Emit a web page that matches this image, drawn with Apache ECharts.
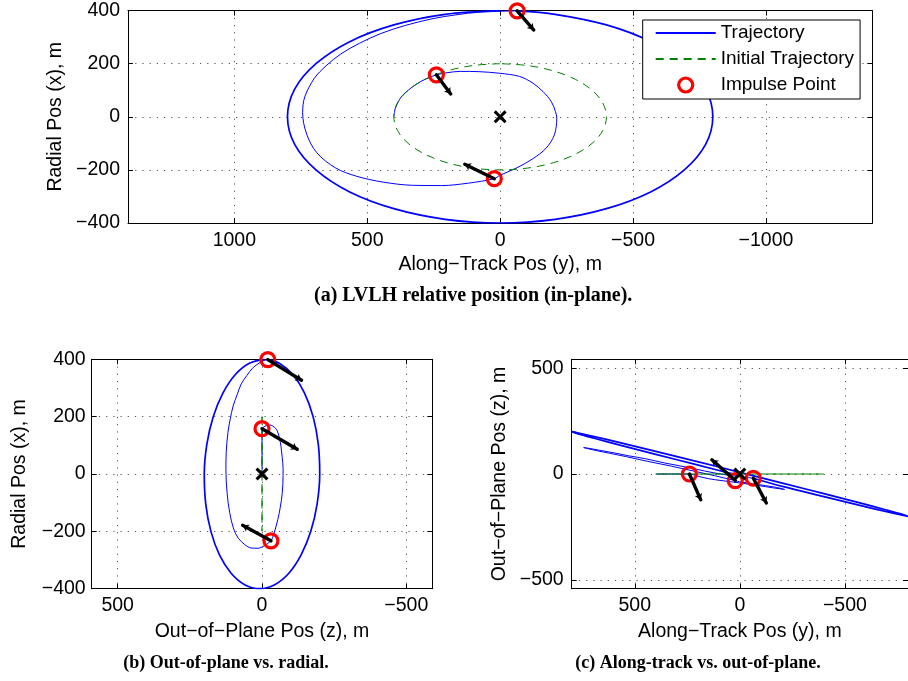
<!DOCTYPE html>
<html><head><meta charset="utf-8">
<script src="https://cdn.jsdelivr.net/npm/echarts@6/dist/echarts.min.js"></script>
<style>html,body{margin:0;padding:0;background:#fff}#c{width:908px;height:681px}</style>
</head><body><div id="c"></div>
<script>
// Points are [along-track y, radial x, out-of-plane z] in metres
const preTraj = [[400,0,0],[395,30,0],[386,52,0],[368,80,0],[346,100,0],[317,122,0],[283,141,0],[240,158,0]];
const innerTraj = [[240,158,0],[200,166,-10],[150,171,-22],[80,170,-32],[2,164,-42],[-73,152,-52],[-123,127,-60],[-161,95,-66],[-192,58,-70],[-208,20,-73],[-213,-5,-73],[-204,-68,-70],[-173,-118,-63],[-123,-158,-55],[-61,-193,-46],[2,-221,-37],[22,-233,-31]];
const transferTraj = [[22,-233,-31],[120,-250,-8],[220,-259,14],[330,-258,38],[440,-246,60],[540,-224,82],[620,-192,98],[690,-135,112],[728,-65,121],[743,15,125],[735,75,124],[699,145,118],[655,192,110],[599,237,100],[529,277,86],[448,314,72],[357,344,52],[257,369,33],[167,384,14],[79,394,-2],[-64,399,-20]];
const outerTraj = [[-64,399,-20],[-207,386,-60],[-400,346,-107],[-566,283,-147],[-693,200,-177],[-773,104,-195],[-800,0,-200],[-773,-104,-191],[-693,-200,-169],[-566,-283,-135],[-400,-346,-93],[-207,-386,-44],[0,-400,8],[207,-386,60],[400,-346,107],[566,-283,147],[693,-200,177],[773,-104,195],[800,0,200],[773,104,191],[693,200,169],[566,283,135],[400,346,93],[207,386,44],[0,400,-8]];
const initialTraj = [[0,200,0],[104,193,0],[200,173,0],[283,141,0],[346,100,0],[386,52,0],[400,0,0],[386,-52,0],[346,-100,0],[283,-141,0],[200,-173,0],[104,-193,0],[0,-200,0],[-104,-193,0],[-200,-173,0],[-283,-141,0],[-346,-100,0],[-386,-52,0],[-400,0,0],[-386,52,0],[-346,100,0],[-283,141,0],[-200,173,0],[-104,193,0],[0,200,0]];
const impulseY = [240, 22, -64];
const impulseX = [158, -233, 399];
const impulseZ = [0, -31, -20];
const tipY = [186, 133, -126];
const tipX = [86, -179, 327];
const tipZ = [-122, 67, -137];
const origin = [0, 0, 0];

const ticksA_x = [-1000,-500,0,500,1000];
const ticksA_y = [-400,-200,0,200,400];
const ticksB_x = [-500,0,500];
const ticksB_y = [-400,-200,0,200,400];
const ticksC_x = [-500,0,500];
const ticksC_y = [-500,0,500];

const FONT = 'Liberation Sans';
const tickLbl = v => (v < 0 ? '\u2212' + Math.abs(v) : String(v));
const gridLine = {show:true, lineStyle:{color:'#555', width:1, type:[1.2,6]}};

function xBottom(g, min, max, ticks, name, margin, gap){
  return {type:'value', gridIndex:g, position:'bottom', min, max, inverse:true,
    axisLine:{show:true, onZero:false, lineStyle:{color:'#000', width:1}},
    axisTick:{show:true, inside:true, length:5, customValues:ticks, lineStyle:{color:'#000'}},
    axisLabel:{customValues:ticks, formatter:tickLbl, margin, fontFamily:FONT, fontSize:19.5, color:'#000'},
    splitLine:gridLine,
    name, nameLocation:'middle', nameGap:gap, nameTextStyle:{fontFamily:FONT, fontSize:19.5, color:'#000'}};
}
function xTop(g, min, max, ticks){
  return {type:'value', gridIndex:g, position:'top', min, max, inverse:true,
    axisLine:{show:true, onZero:false, lineStyle:{color:'#000', width:1}},
    axisTick:{show:true, inside:true, length:5, customValues:ticks, lineStyle:{color:'#000'}},
    axisLabel:{show:false}, splitLine:{show:false}};
}
function yLeft(g, min, max, ticks, name, margin, gap){
  return {type:'value', gridIndex:g, position:'left', min, max,
    axisLine:{show:true, onZero:false, lineStyle:{color:'#000', width:1}},
    axisTick:{show:true, inside:true, length:5, customValues:ticks, lineStyle:{color:'#000'}},
    axisLabel:{customValues:ticks, formatter:tickLbl, margin, fontFamily:FONT, fontSize:19.5, color:'#000'},
    splitLine:gridLine,
    name, nameLocation:'middle', nameRotate:90, nameGap:gap, nameTextStyle:{fontFamily:FONT, fontSize:19.5, color:'#000'}};
}
function yRight(g, min, max, ticks){
  return {type:'value', gridIndex:g, position:'right', min, max,
    axisLine:{show:true, onZero:false, lineStyle:{color:'#000', width:1}},
    axisTick:{show:true, inside:true, length:5, customValues:ticks, lineStyle:{color:'#000'}},
    axisLabel:{show:false}, splitLine:{show:false}};
}

// projections: panel a -> (y, x); panel b -> (z, x); panel c -> (y, z)
const proj = [p => [p[0], p[1]], p => [p[2], p[1]], p => [p[0], p[2]]];
const impulses = impulseY.map((v, i) => [v, impulseX[i], impulseZ[i]]);
const tips = tipY.map((v, i) => [v, tipX[i], tipZ[i]]);
const mainTraj = preTraj.concat(innerTraj.slice(1), transferTraj.slice(1));

const xMark = 'path://M0,2 L2,0 L6,4 L10,0 L12,2 L8,6 L12,10 L10,12 L6,8 L2,12 L0,10 L4,6 Z';
const SM = 0.33;

const series = [];
for (let k = 0; k < 3; k++) {
  const pr = proj[k];
  const ax = {xAxisIndex:k, yAxisIndex:k};
  series.push(Object.assign({type:'line', name:'Trajectory', data:mainTraj.map(pr), smooth:SM, symbol:'none', showSymbol:false,
    lineStyle:{color:'#0000ff', width:1}, itemStyle:{color:'#0000ff'}, z:2, silent:true}, ax));
  series.push(Object.assign({type:'line', name:'Trajectory', data:outerTraj.map(pr), smooth:SM, symbol:'none', showSymbol:false,
    lineStyle:{color:'#0000ff', width:1.7}, itemStyle:{color:'#0000ff'}, z:2, silent:true}, ax));
  series.push(Object.assign({type:'line', name:'Initial Trajectory', data:initialTraj.map(pr), smooth:SM, symbol:'none', showSymbol:false,
    lineStyle:{color:'#008000', width:1, type:[8,6]}, itemStyle:{color:'#008000'}, z:3, silent:true}, ax));
  series.push(Object.assign({type:'scatter', name:'Impulse Point', data:impulses.map(pr), symbol:'circle', symbolSize:14,
    itemStyle:{color:'rgba(0,0,0,0)', borderColor:'#ff0000', borderWidth:3.2, opacity:1}, z:4, silent:true}, ax));
  series.push(Object.assign({type:'lines', coordinateSystem:'cartesian2d', name:'dv', symbol:['none','arrow'], symbolSize:6,
    lineStyle:{color:'#000', width:3.4, opacity:1, curveness:0, cap:'round'},
    data:impulses.map((p, i) => ({coords:[pr(p), pr(tips[i])]})), z:5, silent:true}, ax));
  series.push(Object.assign({type:'scatter', name:'origin', data:[pr(origin)], symbol:xMark, symbolSize:13,
    itemStyle:{color:'#000', opacity:1}, z:6, silent:true}, ax));
}

const capFont = 'bold 20px "Liberation Serif"';
const capFont2 = 'bold 18px "Liberation Serif"';
const option = {
  animation:false,
  backgroundColor:'#fff',
  grid:[
    {left:128, top:10.6, width:744.3, height:212.4},
    {left:91.7, top:359.3, width:340.6, height:229.4},
    {left:571.7, top:359.3, width:339.3, height:229.4}
  ],
  xAxis:[
    xBottom(0, -1400, 1400, ticksA_x, 'Along\u2212Track Pos (y), m', 8, 32),
    xBottom(1, -590, 590, ticksB_x, 'Out\u2212of\u2212Plane Pos (z), m', 7, 32.5),
    xBottom(2, -800, 800, ticksC_x, 'Along\u2212Track Pos (y), m', 7, 32.5),
    xTop(0, -1400, 1400, ticksA_x), xTop(1, -590, 590, ticksB_x), xTop(2, -800, 800, ticksC_x)
  ],
  yAxis:[
    yLeft(0, -400, 400, ticksA_y, 'Radial Pos (x), m', 8, 60),
    yLeft(1, -400, 400, ticksB_y, 'Radial Pos (x), m', 6, 62),
    yLeft(2, -542, 542, ticksC_y, 'Out\u2212of\u2212Plane Pos (z), m', 8, 62),
    yRight(0, -400, 400, ticksA_y), yRight(1, -400, 400, ticksB_y), yRight(2, -542, 542, ticksC_y)
  ],
  legend:{data:[
      {name:'Trajectory', itemStyle:{opacity:0}},
      {name:'Initial Trajectory', itemStyle:{opacity:0}},
      {name:'Impulse Point', icon:'circle', itemStyle:{color:'rgba(0,0,0,0)', borderColor:'#ff0000', borderWidth:3.2, opacity:1}}
    ], orient:'vertical', left:642.7, top:20,
    itemWidth:60, itemHeight:14, itemGap:6, padding:[3,6,4,12], borderColor:'#000', borderWidth:1,
    backgroundColor:'#fff', selectedMode:false,
    textStyle:{fontFamily:FONT, fontSize:19, color:'#000', lineHeight:20}},
  graphic:[
    {type:'text', x:314, y:296, style:{text:'(a) LVLH relative position (in-plane).', font:capFont, fill:'#000', textAlign:'left', textVerticalAlign:'middle'}},
    {type:'text', x:226, y:663, style:{text:'(b) Out-of-plane vs. radial.', font:capFont2, fill:'#000', textAlign:'center', textVerticalAlign:'middle'}},
    {type:'text', x:698, y:663, style:{text:'(c) Along-track vs. out-of-plane.', font:capFont2, fill:'#000', textAlign:'center', textVerticalAlign:'middle'}}
  ],
  series
};
const chart = echarts.init(document.getElementById('c'), null, {renderer:'canvas'});
chart.setOption(option);
</script></body></html>
